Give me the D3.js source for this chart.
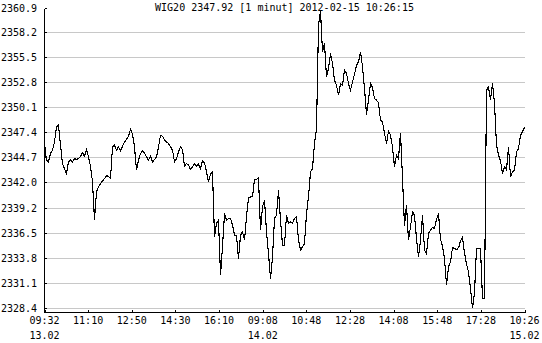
<!DOCTYPE html>
<html><head><meta charset="utf-8">
<script src="https://cdn.jsdelivr.net/npm/d3@7"></script>
<style>
html,body{margin:0;padding:0;background:#fff;}
svg{display:block;}
text{font-family:"DejaVu Sans Mono","Liberation Mono",monospace;font-size:10px;fill:#000;}
</style></head><body>
<svg id="c" width="542" height="343"></svg>
<script>
const title = "WIG20 2347.92 [1 minut] 2012-02-15 10:26:15";
const xTickLabels = ["09:32","11:10","12:50","14:30","16:10","09:08","10:48","12:28","14:08","15:48","17:28","10:26"];
const dateTickIndex = [0, 5, 11];
const dateTickLabels = ["13.02","14.02","15.02"];
const yTicks = [2328.4,2331.1,2333.8,2336.5,2339.2,2342.0,2344.7,2347.4,2350.1,2352.8,2355.5,2358.2,2360.9];
const barsPerTick = 100;
const values = [
2346.16,2344.36,2344.18,2345.08,2345.44,2346.34,2347.97,2348.15,2345.98,2344.00,
2343.45,2342.91,2344.18,2344.36,2344.18,2344.54,2344.43,2344.54,2344.79,2345.15,
2344.79,2345.51,2344.72,2343.71,2342.01,2337.90,2340.93,2341.47,2341.83,2342.12,
2342.37,2342.66,2342.62,2342.37,2345.80,2345.98,2345.44,2345.80,2345.37,2345.87,
2346.34,2346.60,2346.96,2347.70,2347.17,2345.80,2343.27,2344.36,2345.08,2345.37,
2345.15,2344.72,2344.36,2344.79,2344.18,2344.43,2344.72,2345.80,2347.06,2346.96,
2346.52,2346.34,2346.16,2345.80,2345.44,2344.18,2344.54,2345.26,2345.80,2345.51,
2343.71,2344.00,2343.82,2343.35,2343.64,2344.00,2343.71,2343.92,2343.45,2344.29,
2344.07,2343.09,2342.01,2342.84,2343.06,2336.05,2337.50,2337.86,2331.90,2334.97,
2338.58,2337.86,2338.04,2338.04,2337.32,2336.23,2336.23,2333.70,2336.23,2336.59,
2335.69,2338.22,2340.28,2340.38,2340.38,2342.26,2342.30,2342.44,2336.77,2339.30,
2340.02,2336.59,2334.25,2331.54,2333.88,2338.04,2338.40,2341.11,2337.86,2335.15,
2335.15,2338.40,2337.50,2337.68,2337.50,2338.04,2338.22,2335.69,2334.61,2334.97,
2335.33,2338.58,2340.38,2343.09,2343.45,2346.16,2347.79,2359.00,2360.50,2356.09,
2357.07,2353.38,2354.29,2355.91,2354.83,2353.02,2352.48,2351.40,2352.66,2352.48,
2354.11,2353.75,2352.66,2351.94,2352.84,2353.67,2354.65,2355.01,2356.10,2354.50,
2352.12,2349.30,2350.86,2352.66,2352.23,2351.04,2350.86,2350.57,2348.69,2348.51,
2347.25,2346.16,2347.53,2347.07,2345.80,2343.64,2344.90,2344.54,2347.30,2342.40,
2337.20,2339.50,2335.69,2337.14,2338.76,2338.40,2335.87,2333.88,2335.69,2338.40,
2334.61,2334.25,2336.41,2336.77,2337.06,2336.95,2337.93,2338.60,2335.76,2335.04,
2333.70,2330.82,2332.80,2333.34,2334.90,2334.79,2334.68,2334.79,2335.62,2335.98,
2334.32,2333.09,2332.26,2330.45,2328.30,2330.00,2334.79,2334.79,2334.79,2329.37,
2329.37,2351.94,2352.30,2350.86,2352.66,2350.50,2345.98,2344.90,2344.29,2342.91,
2343.64,2343.30,2345.80,2342.55,2343.09,2343.27,2345.26,2345.62,2347.07,2347.43,
2347.92
];

const svg = d3.select("#c");
const totalBars = barsPerTick * (xTickLabels.length - 1);
const x = d3.scaleLinear().domain([0, totalBars]).range([44.5, 524.5]);
const y = d3.scaleLinear().domain([yTicks[0], yTicks[yTicks.length-1]]).range([307.5, 7.5]);
const axisY = 312.5;
const step = totalBars / (values.length - 1);

// gridlines
svg.append("g").selectAll("line").data(yTicks.slice(0, -1)).join("line")
  .attr("x1", 46).attr("x2", x(totalBars))
  .attr("y1", d => Math.round(y(d)) + 0.5).attr("y2", d => Math.round(y(d)) + 0.5)
  .attr("stroke", "#c8c8c8").attr("shape-rendering", "crispEdges");

// y ticks
svg.append("g").selectAll("line").data(yTicks).join("line")
  .attr("x1", 44.5).attr("x2", 47)
  .attr("y1", d => Math.round(y(d)) + 0.5).attr("y2", d => Math.round(y(d)) + 0.5)
  .attr("stroke", "#000").attr("shape-rendering", "crispEdges");

// y labels
svg.append("g").selectAll("text").data(yTicks).join("text")
  .attr("x", 37).attr("y", d => Math.round(y(d)) + 4)
  .attr("text-anchor", "end").text(d => d3.format(".1f")(d));

// axes lines
svg.append("line").attr("x1", 44.5).attr("x2", 44.5).attr("y1", Math.round(y(yTicks[yTicks.length-1])) + 0.5).attr("y2", axisY)
  .attr("stroke", "#000").attr("shape-rendering", "crispEdges");
svg.append("line").attr("x1", 44.5).attr("x2", x(totalBars)).attr("y1", axisY).attr("y2", axisY)
  .attr("stroke", "#000").attr("shape-rendering", "crispEdges");

// x ticks
const tickIdx = d3.range(xTickLabels.length);
svg.append("g").selectAll("line").data(tickIdx).join("line")
  .attr("x1", d => Math.round(x(d*barsPerTick)) + 0.5).attr("x2", d => Math.round(x(d*barsPerTick)) + 0.5)
  .attr("y1", axisY).attr("y2", axisY - 3)
  .attr("stroke", "#000").attr("shape-rendering", "crispEdges");

svg.append("g").selectAll("text").data(tickIdx).join("text")
  .attr("x", d => x(d*barsPerTick)).attr("y", 324)
  .attr("text-anchor", "middle").text(d => xTickLabels[d]);

svg.append("g").selectAll("text").data(dateTickIndex).join("text")
  .attr("x", d => x(d*barsPerTick)).attr("y", 339)
  .attr("text-anchor", "middle").text((d, i) => dateTickLabels[i]);

// title
svg.append("text").attr("x", (x(0) + x(totalBars)) / 2).attr("y", 11)
  .attr("text-anchor", "middle").text(title);

// line
const line = d3.line().x((d, i) => x(i * step)).y(d => y(d));
svg.append("path").datum(values).attr("d", line)
  .attr("fill", "none").attr("stroke", "#000").attr("stroke-width", 1.1)
  .attr("shape-rendering", "crispEdges");
</script>
</body></html>
